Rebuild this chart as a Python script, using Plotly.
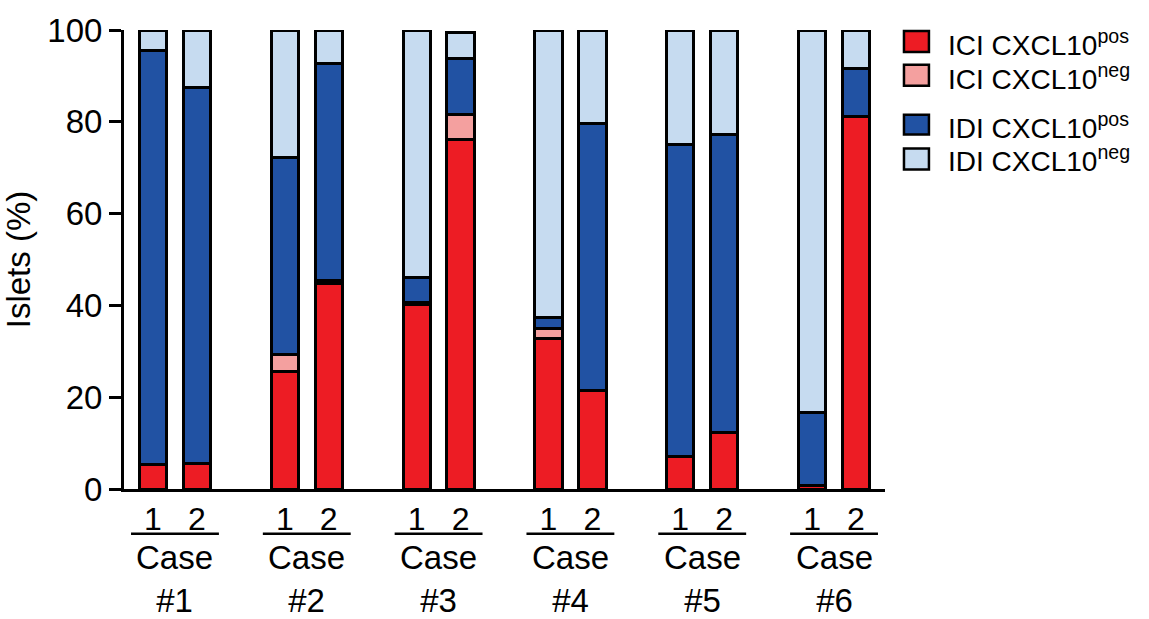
import plotly.graph_objects as go

cases = ["#1", "#2", "#3", "#4", "#5", "#6"]
samples = ["1", "2"]
ici_pos = [5.4, 5.6, 25.7, 44.7, 40.2, 76.2, 32.7, 21.5, 7.1, 12.3, 0.7, 81.1]
ici_neg = [0, 0, 3.5, 0.7, 0.5, 5.5, 2.2, 0, 0, 0, 0, 0]
idi_pos = [90.2, 81.8, 43.1, 47.2, 5.3, 12.0, 2.4, 58.2, 68.0, 64.9, 15.9, 10.5]
idi_neg = [4.4, 12.6, 27.7, 7.4, 54.0, 5.8, 62.7, 20.3, 24.9, 22.8, 83.4, 8.4]
yticks = [0, 20, 40, 60, 80, 100]

series = [
    ("ICI CXCL10<sup>pos</sup>", ici_pos, "#ED1C24"),
    ("ICI CXCL10<sup>neg</sup>", ici_neg, "#F4A09F"),
    ("IDI CXCL10<sup>pos</sup>", idi_pos, "#2152A3"),
    ("IDI CXCL10<sup>neg</sup>", idi_neg, "#C6DBF0"),
]

FONT = "Arial, Liberation Sans, sans-serif"
xpos = []
xlab = []
for k, c in enumerate(cases):
    for j, s in enumerate(samples):
        xpos.append(3 * k + j)
        xlab.append(s)

fig = go.Figure()
for name, vals, col in series:
    fig.add_trace(go.Bar(
        x=xpos, y=vals, name=name, width=0.62,
        marker=dict(color=col, line=dict(color="black", width=3)),
        cliponaxis=False, showlegend=False,
    ))

# plot area in pixels
L, R, T, B = 123, 885, 28, 489
def px(xp):
    return (xp - L) / (R - L)
def py(yp):
    return (B - yp) / (B - T)

shapes = []
annotations = []
for k, c in enumerate(cases):
    xc = 3 * k + 0.5
    shapes.append(dict(type="line", xref="x", yref="paper", x0=xc - 1.0, x1=xc + 1.0,
                       y0=py(534), y1=py(534), line=dict(color="black", width=2.5)))
    annotations.append(dict(x=xc, y=py(537), xref="x", yref="paper", text="Case<br>" + c,
                            showarrow=False, yanchor="top", xanchor="center",
                            font=dict(size=33, color="black", family=FONT)))

# legend
leg_rows = [(29, 50, 41), (63, 84, 75), (113, 133, 124), (147, 168, 158)]
for (name, vals, col), (y0, y1, yc) in zip(series, leg_rows):
    shapes.append(dict(type="rect", xref="paper", yref="paper", x0=px(904), x1=px(929),
                       y0=py(y1), y1=py(y0), fillcolor=col, line=dict(color="black", width=2.5)))
    annotations.append(dict(x=px(946), y=py(yc), xref="paper", yref="paper", text=name,
                            showarrow=False, xanchor="left", yanchor="middle",
                            font=dict(size=28, color="black", family=FONT)))

fig.update_layout(
    barmode="stack",
    width=1149, height=619,
    margin=dict(l=L, r=1149 - R, t=T, b=619 - B),
    plot_bgcolor="white", paper_bgcolor="white",
    font=dict(family=FONT, color="black"),
    shapes=shapes, annotations=annotations,
    xaxis=dict(range=[-0.66, 16.66], tickvals=xpos, ticktext=xlab, showline=True,
               linecolor="black", linewidth=3, ticks="", showgrid=False, zeroline=False,
               tickfont=dict(size=32, color="black", family=FONT)),
    yaxis=dict(range=[0, 100], tickvals=yticks, showline=True, linecolor="black",
               linewidth=3, ticks="outside", ticklen=12, tickwidth=3, tickcolor="black",
               showgrid=False, zeroline=False,
               tickfont=dict(size=33, color="black", family=FONT),
               title=dict(text="Islets (%)", font=dict(size=33, color="black", family=FONT),
                          standoff=12)),
)

fig.write_html("out.html", config={"displayModeBar": False},
               post_script="document.body.style.margin='0';document.body.style.overflow='hidden';")
